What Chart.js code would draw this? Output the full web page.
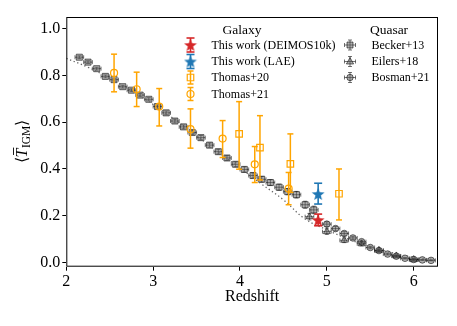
<!DOCTYPE html>
<html><head><meta charset="utf-8">
<script src="https://cdn.jsdelivr.net/npm/chart.js@4"></script>
<style>html,body{margin:0;padding:0;background:#fff;}canvas{display:block}</style>
</head><body>
<canvas id="c" width="457" height="326"></canvas>
<script>
// ---------- data ----------
const xTicks = [2, 3, 4, 5, 6];
const yTicks = [0.0, 0.2, 0.4, 0.6, 0.8, 1.0];

const beckerZ = [2.15,2.25,2.35,2.45,2.55,2.65,2.75,2.85,2.95,3.05,3.15,3.25,3.35,3.45,3.55,3.65,3.75,3.85,3.95,4.05,4.15,4.25,4.35,4.45,4.55,4.65,4.75,4.85];
const beckerF = [0.878,0.857,0.829,0.796,0.782,0.752,0.737,0.716,0.698,0.667,0.640,0.605,0.580,0.556,0.534,0.502,0.474,0.447,0.420,0.398,0.372,0.356,0.342,0.322,0.303,0.290,0.247,0.225];
const beckerErr = [0.006,0.006,0.006,0.006,0.006,0.006,0.006,0.007,0.007,0.007,0.008,0.008,0.008,0.009,0.009,0.009,0.010,0.010,0.010,0.011,0.011,0.012,0.012,0.013,0.013,0.014,0.015,0.016];
const beckerDz = 0.05;

const eilersZ = [4.8,5.0,5.2,5.4,5.6,5.8,6.0];
const eilersF = [0.196,0.132,0.095,0.080,0.052,0.028,0.012];
const eilersErr = [0.014,0.012,0.010,0.009,0.007,0.005,0.004];
const eilersDz = 0.05;

const bosmanZ = [5.0,5.1,5.2,5.3,5.4,5.5,5.6,5.7,5.8,5.9,6.0,6.1,6.2];
const bosmanF = [0.164,0.145,0.124,0.105,0.089,0.064,0.051,0.036,0.027,0.018,0.013,0.011,0.009];
const bosmanErr = [0.010,0.009,0.008,0.007,0.006,0.005,0.004,0.004,0.003,0.003,0.003,0.002,0.002];
const bosmanDz = 0.05;

const thomas20Z = [3.99,4.23,4.58,5.14];
const thomas20F = [0.550,0.491,0.422,0.294];
const thomas20Lo = [0.399,0.353,0.300,0.182];
const thomas20Hi = [0.688,0.628,0.550,0.400];

const thomas21Z = [2.55,2.81,3.07,3.43,3.80,4.17,4.56];
const thomas21F = [0.811,0.741,0.667,0.570,0.530,0.420,0.316];
const thomas21Lo = [0.730,0.667,0.584,0.489,0.449,0.342,0.247];
const thomas21Hi = [0.891,0.814,0.744,0.657,0.607,0.496,0.385];

const deimosZ = [4.9];
const deimosF = [0.182];
const deimosLo = [0.157];
const deimosHi = [0.207];

const laeZ = [4.9];
const laeF = [0.293];
const laeLo = [0.250];
const laeHi = [0.339];

const fitZ = [2.0,2.25,2.5,2.75,3.0,3.25,3.5,3.75,4.0,4.25,4.5,4.75,5.0,5.25,5.5,5.75,6.0,6.25];
const fitF = [0.873,0.835,0.788,0.735,0.676,0.611,0.542,0.472,0.404,0.335,0.268,0.186,0.140,0.100,0.068,0.042,0.022,0.012];

// ---------- styles ----------
const FONT = '"Liberation Serif", "Times New Roman", serif';
const ORANGE = '#ffa500', RED = '#d62728', BLUE = '#1f77b4';
const QFILL = 'rgba(95,95,95,0.5)', QEDGE = 'rgba(0,0,0,0.55)';

function makeStar(color, size) {
  const c = document.createElement('canvas'); c.width = c.height = size;
  const g = c.getContext('2d'); const cx = size/2, cy = size/2 + 0.6, R = size/2 - 0.3, r = R*0.42;
  g.beginPath();
  for (let k = 0; k < 10; k++) { const a = -Math.PI/2 + k*Math.PI/5; const rr = k%2 ? r : R; g.lineTo(cx + rr*Math.cos(a), cy + rr*Math.sin(a)); }
  g.closePath(); g.fillStyle = color; g.fill(); return c;
}
const redStar = makeStar(RED, 14), blueStar = makeStar(BLUE, 14);

const pts = (xs, ys) => xs.map((x, i) => ({x, y: ys[i]}));
const lo = (ys, e) => ys.map((y, i) => y - e[i]);
const hi = (ys, e) => ys.map((y, i) => y + e[i]);
const fill = (n, v) => Array(n).fill(v);

const datasets = [
  {label:'Becker+13', data: pts(beckerZ, beckerF), pointStyle:'rect', pointRadius:4.3, backgroundColor:QFILL, borderColor:QEDGE, borderWidth:1,
   yLo: lo(beckerF, beckerErr), yHi: hi(beckerF, beckerErr), xErr: fill(beckerZ.length, beckerDz), errColor:QEDGE, errWidth:1, cap:2},
  {label:'Eilers+18', data: pts(eilersZ, eilersF), pointStyle:'triangle', pointRadius:4, backgroundColor:QFILL, borderColor:QEDGE, borderWidth:1,
   yLo: lo(eilersF, eilersErr), yHi: hi(eilersF, eilersErr), xErr: fill(eilersZ.length, eilersDz), errColor:QEDGE, errWidth:1, cap:2},
  {label:'Bosman+21', data: pts(bosmanZ, bosmanF), pointStyle:'circle', pointRadius:3.3, backgroundColor:QFILL, borderColor:QEDGE, borderWidth:1,
   yLo: lo(bosmanF, bosmanErr), yHi: hi(bosmanF, bosmanErr), xErr: fill(bosmanZ.length, bosmanDz), errColor:QEDGE, errWidth:1, cap:2},
  {type:'line', label:'fit', data: pts(fitZ, fitF), borderColor:'#666', borderWidth:1.3, borderDash:[1.3,2.6], pointRadius:0, fill:false, tension:0.4, showLine:true},
  {label:'Thomas+20', data: pts(thomas20Z, thomas20F), pointStyle:'rect', pointRadius:4.6, backgroundColor:'rgba(0,0,0,0)', borderColor:ORANGE, borderWidth:1.2,
   yLo: thomas20Lo, yHi: thomas20Hi, errColor:ORANGE, errWidth:1.5, cap:3},
  {label:'Thomas+21', data: pts(thomas21Z, thomas21F), pointStyle:'circle', pointRadius:3.5, backgroundColor:'rgba(0,0,0,0)', borderColor:ORANGE, borderWidth:1.2,
   yLo: thomas21Lo, yHi: thomas21Hi, errColor:ORANGE, errWidth:1.5, cap:3},
  {label:'This work (LAE)', data: pts(laeZ, laeF), pointStyle: blueStar, pointRadius:7, backgroundColor:BLUE, borderColor:BLUE,
   yLo: laeLo, yHi: laeHi, errColor:BLUE, errWidth:1.6, cap:4},
  {label:'This work (DEIMOS10k)', data: pts(deimosZ, deimosF), pointStyle: redStar, pointRadius:7, backgroundColor:RED, borderColor:RED,
   yLo: deimosLo, yHi: deimosHi, errColor:RED, errWidth:1.6, cap:4},
];
// draw in array order (later on top)
datasets.forEach((d, i) => d.order = datasets.length - i);

function seg(ctx, x1, y1, x2, y2) { ctx.beginPath(); ctx.moveTo(x1, y1); ctx.lineTo(x2, y2); ctx.stroke(); }

const errPlugin = {
  id: 'errbars',
  beforeDatasetDraw(chart, args) {
    const ds = chart.data.datasets[args.index];
    if (!ds.yLo) return;
    const xS = chart.scales.x, yS = chart.scales.y, ctx = chart.ctx;
    ctx.save(); ctx.strokeStyle = ds.errColor; ctx.lineWidth = ds.errWidth;
    ds.data.forEach((p, i) => {
      const px = xS.getPixelForValue(p.x), py = yS.getPixelForValue(p.y);
      const y1 = yS.getPixelForValue(ds.yLo[i]), y2 = yS.getPixelForValue(ds.yHi[i]);
      seg(ctx, px, y1, px, y2);
      seg(ctx, px - ds.cap, y1, px + ds.cap, y1);
      seg(ctx, px - ds.cap, y2, px + ds.cap, y2);
      if (ds.xErr) {
        const x1 = xS.getPixelForValue(p.x - ds.xErr[i]), x2 = xS.getPixelForValue(p.x + ds.xErr[i]);
        seg(ctx, x1, py, x2, py);
        seg(ctx, x1, py - ds.cap, x1, py + ds.cap);
        seg(ctx, x2, py - ds.cap, x2, py + ds.cap);
      }
    });
    ctx.restore();
  }
};

function legendMarker(ctx, kind, x, y) {
  ctx.save();
  if (kind === 'red' || kind === 'blue') {
    ctx.strokeStyle = kind === 'red' ? RED : BLUE; ctx.lineWidth = 1.6;
    seg(ctx, x, y - 7, x, y + 7); seg(ctx, x - 4, y - 7, x + 4, y - 7); seg(ctx, x - 4, y + 7, x + 4, y + 7);
    const img = kind === 'red' ? redStar : blueStar;
    ctx.drawImage(img, x - img.width/2, y - img.height/2);
  } else if (kind === 'sq' || kind === 'ci') {
    ctx.strokeStyle = ORANGE; ctx.lineWidth = 1.5;
    seg(ctx, x, y - 6.5, x, y + 6.5); seg(ctx, x - 3, y - 6.5, x + 3, y - 6.5); seg(ctx, x - 3, y + 6.5, x + 3, y + 6.5);
    ctx.lineWidth = 1.2; ctx.fillStyle = '#fff';
    ctx.beginPath();
    if (kind === 'sq') ctx.rect(x - 3.25, y - 3.25, 6.5, 6.5); else ctx.arc(x, y, 3.5, 0, Math.PI*2);
    ctx.stroke();
  } else {
    ctx.strokeStyle = QEDGE; ctx.fillStyle = QFILL; ctx.lineWidth = 1;
    seg(ctx, x - 5.5, y, x + 5.5, y); seg(ctx, x - 5.5, y - 2, x - 5.5, y + 2); seg(ctx, x + 5.5, y - 2, x + 5.5, y + 2);
    seg(ctx, x, y - 5, x, y + 5); seg(ctx, x - 2, y - 5, x + 2, y - 5); seg(ctx, x - 2, y + 5, x + 2, y + 5);
    ctx.beginPath();
    if (kind === 'qs') ctx.rect(x - 3, y - 3, 6, 6);
    else if (kind === 'qt') { ctx.moveTo(x, y - 4); ctx.lineTo(x + 3.6, y + 2.5); ctx.lineTo(x - 3.6, y + 2.5); ctx.closePath(); }
    else ctx.arc(x, y, 3.2, 0, Math.PI*2);
    ctx.fill(); ctx.stroke();
  }
  ctx.restore();
}

const legendTitles = ['Galaxy', 'Quasar'];
const galaxyLabels = ['This work (DEIMOS10k)', 'This work (LAE)', 'Thomas+20', 'Thomas+21'];
const quasarLabels = ['Becker+13', 'Eilers+18', 'Bosman+21'];

const decoPlugin = {
  id: 'deco',
  afterDraw(chart) {
    const ctx = chart.ctx, a = chart.chartArea;
    ctx.save();
    // frame
    ctx.strokeStyle = '#000'; ctx.lineWidth = 1;
    ctx.strokeRect(a.left + 0.5, a.top + 0.5, a.right - a.left - 1, a.bottom - a.top - 1);
    // legend
    ctx.fillStyle = '#000'; ctx.textBaseline = 'middle';
    ctx.font = '13.5px ' + FONT; ctx.textAlign = 'center';
    ctx.fillText(legendTitles[0], 242, 30);
    ctx.fillText(legendTitles[1], 389, 30);
    ctx.font = '12px ' + FONT; ctx.textAlign = 'left';
    const rows = [45, 61.5, 77.5, 94];
    const gk = ['red', 'blue', 'sq', 'ci'], qk = ['qs', 'qt', 'qc'];
    galaxyLabels.forEach((t, i) => { legendMarker(ctx, gk[i], 190.5, rows[i]); ctx.fillStyle = '#000'; ctx.fillText(t, 211.5, rows[i] + 0.5); });
    quasarLabels.forEach((t, i) => { legendMarker(ctx, qk[i], 350, rows[i]); ctx.fillStyle = '#000'; ctx.fillText(t, 371.5, rows[i] + 0.5); });
    // y-axis title  <T̄_IGM>
    ctx.translate(21, (a.top + a.bottom) / 2); ctx.rotate(-Math.PI/2);
    ctx.textBaseline = 'alphabetic'; ctx.textAlign = 'left';
    const parts = [['\u27E8', '16px ' + FONT, 0], ['T', 'italic 16px ' + FONT, 0], ['IGM', '11.5px ' + FONT, 3.5], ['\u27E9', '16px ' + FONT, 0]];
    let tot = 0; parts.forEach(p => { ctx.font = p[1]; p.w = ctx.measureText(p[0]).width; tot += p.w; });
    let x = -tot/2; const base = 5.5;
    parts.forEach((p, i) => {
      ctx.font = p[1]; ctx.fillText(p[0], x, base + p[2]);
      if (i === 1) { ctx.strokeStyle = '#000'; ctx.lineWidth = 0.9; seg(ctx, x + 2.5, base - 13, x + p.w + 1, base - 13); }
      x += p.w + (i === 1 ? 0.5 : 0);
    });
    ctx.restore();
  }
};

new Chart(document.getElementById('c'), {
  type: 'scatter',
  data: { datasets },
  options: {
    responsive: false, animation: false, devicePixelRatio: 1,
    layout: { padding: { top: 17, right: 19, left: 0, bottom: 0 } },
    plugins: { legend: { display: false }, tooltip: { enabled: false } },
    scales: {
      x: {
        type: 'linear', min: 2, max: 6.28,
        afterFit: s => { s.height = 59.3; },
        afterBuildTicks: s => { s.ticks = xTicks.map(v => ({value: v})); },
        ticks: { includeBounds: false, font: { family: FONT, size: 16 }, color: '#000', padding: 1, maxRotation: 0, callback: v => String(v) },
        grid: { drawOnChartArea: false, drawTicks: true, tickLength: 4, tickColor: '#000', tickWidth: 1 },
        border: { display: false },
        title: { display: true, text: 'Redshift', font: { family: FONT, size: 16 }, color: '#000', padding: { top: 0, bottom: 19.5 } }
      },
      y: {
        type: 'linear', min: -0.018, max: 1.05,
        afterFit: s => { s.width = 66.3; },
        afterBuildTicks: s => { s.ticks = yTicks.map(v => ({value: v})); },
        ticks: { includeBounds: false, font: { family: FONT, size: 16 }, color: '#000', padding: 2, callback: v => v.toFixed(1) },
        grid: { drawOnChartArea: false, drawTicks: true, tickLength: 4, tickColor: '#000', tickWidth: 1 },
        border: { display: false }
      }
    }
  },
  plugins: [errPlugin, decoPlugin]
});
</script>
</body></html>
